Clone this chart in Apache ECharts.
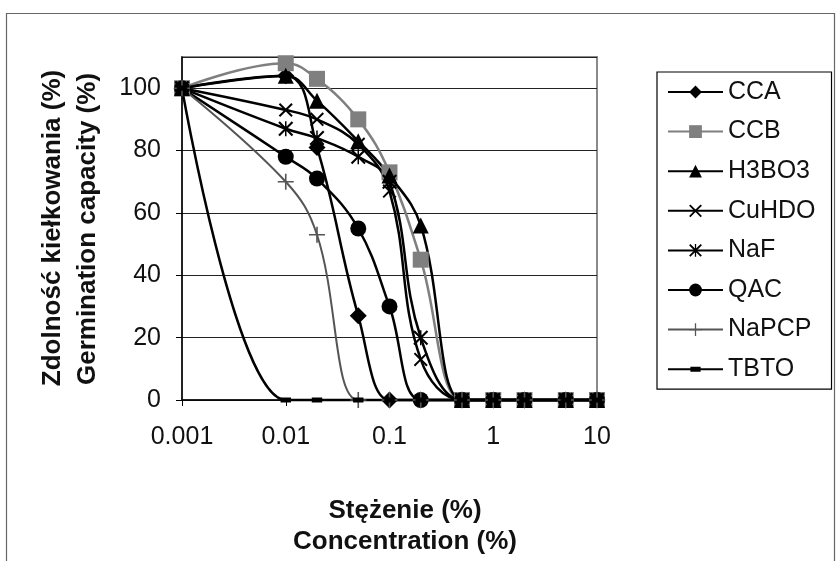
<!DOCTYPE html>
<html>
<head>
<meta charset="utf-8">
<script src="https://cdn.jsdelivr.net/npm/echarts@6/dist/echarts.min.js"></script>
<style>
  html, body { margin: 0; padding: 0; background: #fff; }
  #main { width: 836px; height: 561px; }
</style>
</head>
<body>
<div id="main"></div>
<script>
// stezenie (%) - x values, log scale
var conc = [0.001, 0.01, 0.02, 0.05, 0.1, 0.2, 0.5, 1, 2, 5, 10];
var xTicks = ['0.001', '0.01', '0.1', '1', '10'];

// zdolnosc kielkowania (%) per preparation
var CCA   = [100, 104, 81, 27, 0, 0, 0, 0, 0, 0, 0];
var CCB   = [100, 108, 103, 90, 73, 45, 0, 0, 0, 0, 0];
var H3BO3 = [100, 104, 96, 83, 72, 56, 0, 0, 0, 0, 0];
var CuHDO = [100, 93, 90, 82, 67, 13, 0, 0, 0, 0, 0];
var NaF   = [100, 87, 84, 78, 70, 20, 0, 0, 0, 0, 0];
var QAC   = [100, 78, 71, 55, 30, 0, 0, 0, 0, 0, 0];
var NaPCP = [100, 70, 53, 0, 0, 0, 0, 0, 0, 0, 0];
var TBTO  = [100, 0, 0, 0, 0, 0, 0, 0, 0, 0, 0];

var FONT = 'Liberation Sans, Arial, sans-serif';

// marker shapes drawn as filled paths
var crossPath = 'path://M0,2 L2,0 L10,8 L18,0 L20,2 L12,10 L20,18 L18,20 L10,12 L2,20 L0,18 L8,10 Z';
var starPath = 'path://M0,2 L2,0 L10,8 L18,0 L20,2 L12,10 L20,18 L18,20 L10,12 L2,20 L0,18 L8,10 Z M9,0 L11,0 L11,20 L9,20 Z';
var plusPath = 'path://M9,0 L11,0 L11,9 L20,9 L20,11 L11,11 L11,20 L9,20 L9,11 L0,11 L0,9 L9,9 Z';
// short bar; the two empty subpaths keep the box square
var dashPath = 'path://M0,0 L0.01,0 Z M20,20 L19.99,20 Z M2,6 L18,6 L18,14 L2,14 Z';

function pairs(vals) {
    var out = [];
    for (var i = 0; i < conc.length; i++) {
        out.push([conc[i], vals[i]]);
    }
    return out;
}

function mk(name, vals, color, symbol, size, width) {
    return {
        name: name,
        type: 'line',
        smooth: 0.4,
        clip: false,
        data: pairs(vals),
        symbol: symbol,
        symbolSize: size,
        showAllSymbol: true,
        lineStyle: { color: color, width: width },
        itemStyle: { color: color, borderWidth: 0 }
    };
}

var chart = echarts.init(document.getElementById('main'));
chart.setOption({
    animation: false,
    backgroundColor: '#fff',
    grid: {
        left: 182, right: 239, top: 57, bottom: 161,
        show: true, borderColor: '#8a8a8a', borderWidth: 2
    },
    xAxis: {
        type: 'log',
        logBase: 10,
        min: 0.001,
        max: 10,
        axisLine: { lineStyle: { color: '#000', width: 1.5 } },
        axisTick: { show: true, length: 6, lineStyle: { color: '#000' } },
        minorTick: { show: false },
        splitLine: { show: false },
        axisLabel: {
            margin: 25,
            fontSize: 25,
            fontFamily: FONT,
            color: '#111',
            formatter: function (v) {
                var k = Math.round(Math.log10(v)) + 3;
                return xTicks[k] || '';
            }
        }
    },
    yAxis: {
        type: 'value',
        min: 0,
        max: 110,
        interval: 20,
        axisLine: { show: true, lineStyle: { color: '#000', width: 1.5 } },
        axisTick: { show: true, length: 6, lineStyle: { color: '#000' } },
        splitLine: { lineStyle: { color: '#222', width: 1.2 } },
        axisLabel: {
            margin: 21,
            fontSize: 25,
            fontFamily: FONT,
            color: '#111',
            showMaxLabel: false
        }
    },
    legend: {
        orient: 'vertical',
        left: 657,
        top: 72,
        padding: [7, 16, 7, 10],
        borderColor: '#000',
        borderWidth: 1.2,
        itemWidth: 55,
        itemHeight: 16,
        itemGap: 13.6,
        textStyle: { fontSize: 25, fontFamily: FONT, color: '#111', lineHeight: 26 },
        data: ['CCA', 'CCB', 'H3BO3', 'CuHDO', 'NaF', 'QAC', 'NaPCP', 'TBTO']
    },
    graphic: [
        { type: 'rect', shape: { x: 6.5, y: 13.5, width: 828, height: 560 },
          style: { fill: 'none', stroke: '#666', lineWidth: 1.2 }, silent: true },
        { type: 'text', x: 53, y: 228, rotation: Math.PI / 2,
          style: { text: 'Zdolność kiełkowania (%)', font: 'bold 26px ' + FONT, fill: '#111',
                   textAlign: 'center', textVerticalAlign: 'middle' } },
        { type: 'text', x: 88, y: 229, rotation: Math.PI / 2,
          style: { text: 'Germination capacity (%)', font: 'bold 26px ' + FONT, fill: '#111',
                   textAlign: 'center', textVerticalAlign: 'middle' } },
        { type: 'text', x: 405, y: 511,
          style: { text: 'Stężenie (%)', font: 'bold 26px ' + FONT, fill: '#111',
                   textAlign: 'center', textVerticalAlign: 'middle' } },
        { type: 'text', x: 405, y: 542,
          style: { text: 'Concentration (%)', font: 'bold 26px ' + FONT, fill: '#111',
                   textAlign: 'center', textVerticalAlign: 'middle' } }
    ],
    series: [
        mk('CCA', CCA, '#000', 'diamond', 17, 2.5),
        mk('CCB', CCB, '#7f7f7f', 'rect', 16, 2.5),
        mk('H3BO3', H3BO3, '#000', 'triangle', 16, 2.5),
        mk('CuHDO', CuHDO, '#000', crossPath, 14, 2.5),
        mk('NaF', NaF, '#000', starPath, 15, 2.5),
        mk('QAC', QAC, '#000', 'circle', 16, 2.5),
        mk('NaPCP', NaPCP, '#555', plusPath, 16, 2),
        mk('TBTO', TBTO, '#000', dashPath, 13, 2.5)
    ]
});
</script>
</body>
</html>
